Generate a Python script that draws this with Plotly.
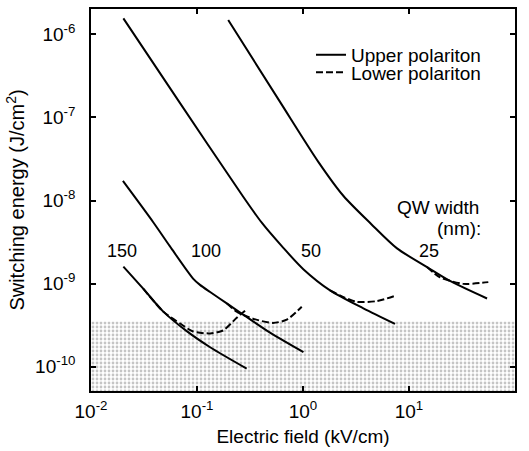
import plotly.graph_objects as go

# ---------------- data ----------------
# QW width 150 nm
f150_up = [0.0202, 0.0311, 0.0481, 0.080, 0.133, 0.294]
e150_up = [1.60e-9, 8.67e-10, 4.59e-10, 2.67e-10, 1.71e-10, 9.46e-11]
f150_lo = [0.0311, 0.0481, 0.0692, 0.0917, 0.133, 0.176, 0.237, 0.284]
e150_lo = [8.67e-10, 4.59e-10, 3.30e-10, 2.65e-10, 2.51e-10, 2.72e-10, 3.87e-10, 4.69e-10]

# QW width 100 nm
f100_up = [0.020, 0.0385, 0.0556, 0.0923, 0.1067, 0.133, 0.191, 0.274, 0.489, 1.01]
e100_up = [1.72e-8, 5.51e-9, 2.80e-9, 1.14e-9, 9.64e-10, 7.91e-10, 5.77e-10, 4.21e-10, 2.56e-10, 1.49e-10]
f100_lo = [0.191, 0.237, 0.337, 0.521, 0.702, 0.973]
e100_lo = [5.77e-10, 4.59e-10, 3.77e-10, 3.36e-10, 3.67e-10, 5.26e-10]

# QW width 50 nm
f50_up = [0.0202, 0.0692, 0.264, 0.410, 0.634, 1.007, 1.80, 3.71, 7.38]
e50_up = [1.56e-6, 1.49e-7, 1.18e-8, 5.36e-9, 2.80e-9, 1.49e-9, 8.28e-10, 5.03e-10, 3.27e-10]
f50_lo = [1.80, 2.30, 3.21, 4.95, 7.38]
e50_lo = [8.28e-10, 7.05e-10, 6.03e-10, 6.14e-10, 7.10e-10]

# QW width 25 nm
f25_up = [0.197, 0.607, 1.40, 2.40, 4.39, 7.71, 14.8, 24.9, 54.5]
e25_up = [1.49e-6, 1.54e-7, 2.90e-8, 1.14e-8, 5.22e-9, 2.65e-9, 1.58e-9, 1.06e-9, 6.61e-10]
f25_lo = [14.8, 19.6, 32.5, 56.0]
e25_lo = [1.58e-9, 1.19e-9, 9.91e-10, 1.04e-9]

qw_labels = ["150", "100", "50", "25"]
shaded_max = 3.5e-10          # top of the stippled region
field_span = [0.01, 100]

x_ticks = [1e-2, 1e-1, 1e0, 1e1, 1e2]
x_ticktext = ["10<sup>-2</sup>", "10<sup>-1</sup>", "10<sup>0</sup>", "10<sup>1</sup>", "10<sup>2</sup>"]
y_ticks = [1e-10, 1e-9, 1e-8, 1e-7, 1e-6]
y_ticktext = ["10<sup>-10</sup>", "10<sup>-9</sup>", "10<sup>-8</sup>", "10<sup>-7</sup>", "10<sup>-6</sup>"]

# ---------------- figure ----------------
FONT = "Liberation Sans, Arial, Helvetica, sans-serif"
fig = go.Figure()

# stippled region
fig.add_trace(go.Scatter(
    x=[field_span[0], field_span[1], field_span[1], field_span[0]],
    y=[1e-12, 1e-12, shaded_max, shaded_max],
    mode="none", fill="toself",
    fillcolor="rgba(0,0,0,0)",
    fillpattern=dict(shape=".", fgcolor="#8c8c8c", bgcolor="white", size=4, solidity=0.38),
    showlegend=False, hoverinfo="skip"))

up_sets = [(f150_up, e150_up), (f100_up, e100_up), (f50_up, e50_up), (f25_up, e25_up)]
lo_sets = [(f150_lo, e150_lo), (f100_lo, e100_lo), (f50_lo, e50_lo), (f25_lo, e25_lo)]

for i, (f, e) in enumerate(lo_sets):
    fig.add_trace(go.Scatter(
        x=f, y=e, mode="lines",
        line=dict(color="black", width=2, dash="7px,3px", shape="spline", smoothing=0.7),
        name="Lower polariton", showlegend=(i == 0), legend="legend2"))

for i, (f, e) in enumerate(up_sets):
    fig.add_trace(go.Scatter(
        x=f, y=e, mode="lines",
        line=dict(color="black", width=2, shape="spline", smoothing=0.8),
        name="Upper polariton", showlegend=(i == 0), legend="legend"))

L, R, T, B = 91, 14, 7, 53
W, H = 529, 451
pw, ph = W - L - R, H - T - B

def px(xp):
    return (xp - L) / pw

def py(yp):
    return (H - B - yp) / ph

axis_common = dict(
    type="log", showgrid=False, zeroline=False,
    showline=True, linecolor="black", linewidth=1.5, mirror="ticks",
    ticks="inside", ticklen=5, tickwidth=1.5, tickcolor="black",
    tickfont=dict(family=FONT, size=19, color="black"),
)

fig.update_layout(
    width=W, height=H,
    margin=dict(l=L, r=R, t=T, b=B),
    paper_bgcolor="white", plot_bgcolor="white",
    font=dict(family=FONT, color="black"),
    xaxis=dict(axis_common, range=[-2, 2], tickvals=x_ticks, ticktext=x_ticktext,
               ticklabelstandoff=2,
               title=dict(text="Electric field (kV/cm)", font=dict(family=FONT, size=19), standoff=9)),
    yaxis=dict(axis_common, range=[-10.294, -5.694], tickvals=y_ticks, ticktext=y_ticktext,
               ticklabelstandoff=10,
               title=dict(text="Switching energy (J/cm<sup>2</sup>)", font=dict(family=FONT, size=20), standoff=5)),
    legend=dict(x=px(311), y=py(54), xanchor="left", yanchor="middle",
                bgcolor="rgba(0,0,0,0)", borderwidth=0,
                font=dict(family=FONT, size=19, color="black")),
    legend2=dict(x=px(311), y=py(72), xanchor="left", yanchor="middle",
                 bgcolor="rgba(0,0,0,0)", borderwidth=0,
                 font=dict(family=FONT, size=19, color="black")),
)

label_pos = [122, 206, 311, 429]
for lab, xp in zip(qw_labels, label_pos):
    fig.add_annotation(x=px(xp), y=py(255), xref="paper", yref="paper", text=lab,
                       showarrow=False, font=dict(family=FONT, size=18, color="black"),
                       xanchor="center", yanchor="middle")

fig.add_annotation(x=px(481), y=py(210), xref="paper", yref="paper", text="QW width",
                   showarrow=False, font=dict(family=FONT, size=19, color="black"),
                   xanchor="right", yanchor="middle")
fig.add_annotation(x=px(483), y=py(232), xref="paper", yref="paper", text="(nm):",
                   showarrow=False, font=dict(family=FONT, size=19, color="black"),
                   xanchor="right", yanchor="middle")

fig.write_html("out.html",
               config={"displayModeBar": False},
               post_script="document.body.style.margin='0';document.body.style.overflow='hidden';")
